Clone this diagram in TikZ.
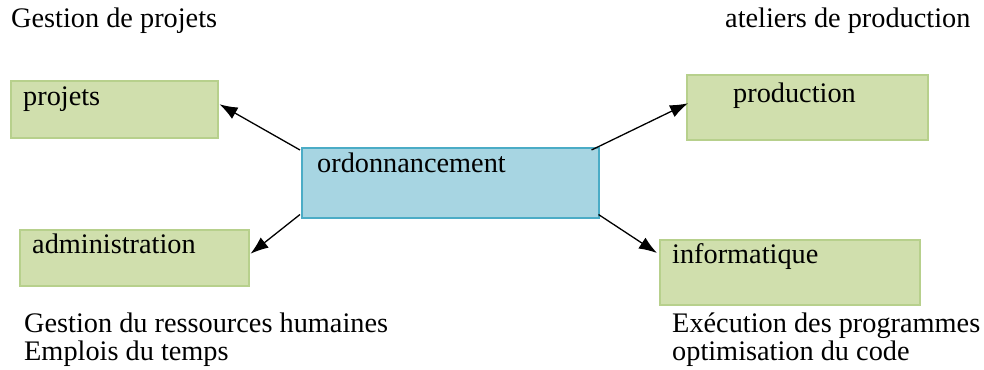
\documentclass[tikz,border=0pt]{standalone}
\usepackage{fontspec}
\setmainfont{Liberation Serif}
\usetikzlibrary{arrows.meta}
\definecolor{boxgreen}{HTML}{D0DFAD}
\definecolor{boxgreenline}{HTML}{B7D08C}
\definecolor{boxblue}{HTML}{A7D5E2}
\definecolor{boxblueline}{HTML}{4BACC6}
\begin{document}
\begin{tikzpicture}[x=1pt,y=-1pt,
  greenbox/.style={draw=boxgreenline, fill=boxgreen, line width=1.5pt, anchor=north west, inner sep=0pt},
  bluebox/.style={draw=boxblueline, fill=boxblue, line width=1.5pt, anchor=north west, inner sep=0pt},
  txt/.style={anchor=base west, inner sep=0pt, font=\fontsize{28.3}{34}\selectfont},
  conn/.style={line width=1.3pt, -{Latex[length=18pt,width=13pt]}}]
\useasboundingbox (0,0) rectangle (984,369);
% boxes
\node[greenbox, minimum width=207pt, minimum height=57pt] (projets) at (10,80) {};
\node[greenbox, minimum width=229pt, minimum height=56pt] (admin) at (19,229) {};
\node[bluebox, minimum width=297pt, minimum height=70pt] (ord) at (301,147) {};
\node[greenbox, minimum width=241pt, minimum height=65pt] (prod) at (686,74) {};
\node[greenbox, minimum width=260pt, minimum height=65pt] (info) at (659,239) {};
% box texts
\node[txt] (tprojets) at (23,105) {projets};
\node[txt] (tadmin) at (32,253) {administration};
\node[txt] (tord) at (317,172) {ordonnancement};
\node[txt] (tprod) at (733,102) {production};
\node[txt] (tinfo) at (672,263) {informatique};
% free texts
\node[txt] (t1) at (11,28) {Gestion de projets};
\node[txt] (t2) at (725,28) {ateliers de production};
\node[txt] (t3) at (24,332) {Gestion du ressources humaines};
\node[txt] (t4) at (24,360) {Emplois du temps};
\node[txt] (t5) at (672,332) {Exécution des programmes};
\node[txt] (t6) at (672,360) {optimisation du code};
% connectors
\draw[conn] ([xshift=-1pt,yshift=-3pt]ord.north west) -- ([xshift=1pt,yshift=5pt]projets.east);
\draw[conn] ([xshift=-1pt,yshift=4pt]ord.south west) -- ([xshift=1pt,yshift=4pt]admin.east);
\draw[conn] ([xshift=-8pt,yshift=-3pt]ord.north east) -- ([xshift=2pt,yshift=4pt]prod.west);
\draw[conn] ([xshift=-1pt,yshift=4pt]ord.south east) -- ([xshift=-2pt,yshift=-14pt]info.north west);
\end{tikzpicture}
\end{document}
